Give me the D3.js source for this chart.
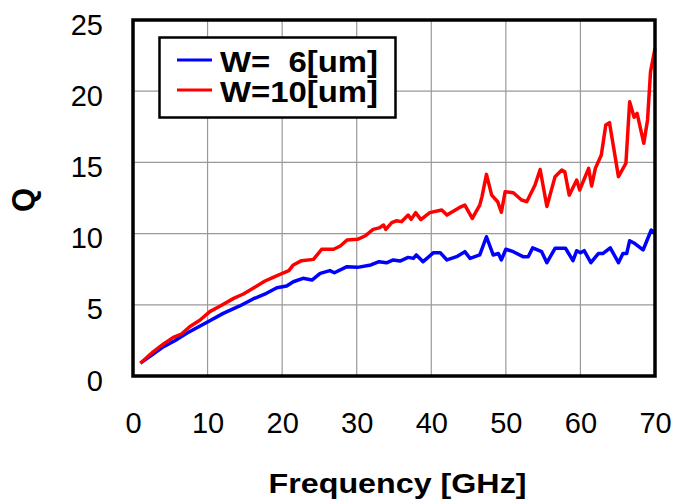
<!DOCTYPE html>
<html>
<head>
<meta charset="utf-8">
<script src="https://cdn.jsdelivr.net/npm/d3@7"></script>
<style>
  body { margin: 0; background: #fff; }
  svg text { font-family: "Liberation Sans", Arial, sans-serif; }
</style>
</head>
<body>
<svg id="chart" width="675" height="502"></svg>
<script>
// W = 6 um
const freq6 = [1, 2.7, 4.1, 5.6, 7.2, 9.0, 10.3, 12.1, 14.3, 16.1, 17.9, 19.3, 20.6, 21.5, 22.8, 24.0, 25.1, 26.4, 27.0, 28.7, 30.1, 31.9, 33.0, 34.0, 34.9, 35.8, 36.9, 37.6, 38.0, 38.9, 40.3, 41.2, 42.1, 43.4, 44.5, 45.2, 46.5, 47.4, 48.3, 49.0, 49.4, 50.0, 51.0, 52.3, 53.0, 53.6, 54.8, 55.5, 56.6, 58.0, 59.0, 59.5, 60.0, 60.5, 61.4, 62.4, 63.0, 64.0, 65.1, 65.7, 66.2, 66.6, 67.3, 68.4, 69.5, 70];
const q6 = [0.9, 1.54, 2.06, 2.48, 3.0, 3.51, 3.88, 4.4, 4.92, 5.41, 5.81, 6.2, 6.32, 6.62, 6.86, 6.74, 7.21, 7.4, 7.25, 7.68, 7.63, 7.8, 8.03, 7.95, 8.15, 8.07, 8.33, 8.26, 8.5, 8.03, 8.66, 8.66, 8.15, 8.38, 8.73, 8.26, 8.5, 9.78, 8.5, 8.6, 8.15, 8.9, 8.73, 8.38, 8.38, 9.0, 8.73, 7.96, 8.97, 8.97, 8.1, 8.8, 8.66, 8.8, 7.96, 8.6, 8.6, 9.0, 7.96, 8.6, 8.6, 9.5, 9.3, 8.85, 10.25, 10.0];

// W = 10 um
const freq10 = [1, 2.7, 4.1, 5.4, 6.5, 7.6, 9.0, 10.3, 11.7, 13.5, 14.8, 16.1, 17.7, 18.8, 20.2, 20.9, 21.5, 22.6, 24.2, 25.3, 26.9, 27.8, 28.7, 30.1, 31.1, 32.2, 33.0, 33.6, 33.9, 34.7, 35.3, 36.0, 36.9, 37.3, 37.9, 38.6, 39.8, 41.4, 42.1, 43.8, 44.5, 45.5, 46.5, 46.8, 47.4, 48.1, 48.9, 49.4, 49.9, 51.0, 52.1, 52.8, 53.9, 54.6, 55.5, 56.6, 57.5, 57.9, 58.5, 59.5, 59.9, 61.1, 61.5, 62.0, 62.8, 63.4, 63.9, 65.1, 66.1, 66.6, 67.2, 67.6, 68.5, 69.0, 69.4, 70];
const q10 = [0.9, 1.7, 2.25, 2.71, 2.95, 3.46, 3.93, 4.52, 4.92, 5.45, 5.76, 6.16, 6.67, 6.93, 7.25, 7.4, 7.8, 8.1, 8.19, 8.9, 8.9, 9.13, 9.55, 9.6, 9.83, 10.3, 10.4, 10.6, 10.3, 10.77, 10.9, 10.84, 11.3, 11.0, 11.47, 10.98, 11.47, 11.66, 11.3, 11.84, 12.0, 11.07, 12.0, 12.6, 14.16, 12.7, 12.24, 11.5, 12.94, 12.87, 12.36, 12.24, 13.4, 14.5, 11.9, 14.0, 14.47, 14.35, 12.7, 13.76, 13.06, 14.58, 13.34, 14.58, 15.52, 17.63, 17.79, 14.0, 14.94, 19.26, 18.17, 18.44, 16.34, 17.98, 21.37, 23.0];

const xTicks = [0, 10, 20, 30, 40, 50, 60, 70];
const yTicks = [0, 5, 10, 15, 20, 25];
const seriesNames = ["W=  6[um]", "W=10[um]"];
const seriesColors = ["#0000ff", "#ff0000"];

const svg = d3.select("#chart");
const x = d3.scaleLinear([0, 70], [133, 655]);
const y = d3.scaleLinear([0, 25], [376, 20]);

// grid
svg.append("g")
    .attr("stroke", "#999")
    .attr("stroke-width", 1.2)
    .call(g => g.selectAll("line.v")
      .data(xTicks.slice(1, -1))
      .join("line")
        .attr("x1", d => x(d)).attr("x2", d => x(d))
        .attr("y1", y(25)).attr("y2", y(0)))
    .call(g => g.selectAll("line.h")
      .data(yTicks.slice(1, -1))
      .join("line")
        .attr("y1", d => y(d)).attr("y2", d => y(d))
        .attr("x1", x(0)).attr("x2", x(70)));

// axes
const xAxis = g => g
    .attr("transform", `translate(0,${y(0)})`)
    .call(d3.axisBottom(x).tickValues(xTicks).tickSize(0).tickPadding(0))
    .call(g => g.select(".domain").remove())
    .call(g => g.selectAll("text")
        .attr("y", 57).attr("dy", 0)
        .attr("fill", "#000")
        .attr("font-size", 29)
        .attr("font-family", "Liberation Sans, Arial, sans-serif"));

const yAxis = g => g
    .attr("transform", `translate(${x(0)},0)`)
    .call(d3.axisLeft(y).tickValues(yTicks).tickSize(0).tickPadding(30))
    .call(g => g.select(".domain").remove())
    .call(g => g.selectAll("text")
        .attr("dy", 14).attr("fill", "#000")
        .attr("font-size", 29)
        .attr("font-family", "Liberation Sans, Arial, sans-serif"));

svg.append("g").call(xAxis);
svg.append("g").call(yAxis);

// curves
const line = d3.line().x(d => x(d[0])).y(d => y(d[1]));
const series = [d3.zip(freq6, q6), d3.zip(freq10, q10)];

svg.append("g")
    .attr("fill", "none")
    .attr("stroke-width", 3.5)
    .attr("stroke-linejoin", "round")
  .selectAll("path")
  .data(series)
  .join("path")
    .attr("stroke", (d, i) => seriesColors[i])
    .attr("d", line);

// frame
svg.append("rect")
    .attr("x", x(0)).attr("y", y(25))
    .attr("width", x(70) - x(0)).attr("height", y(0) - y(25))
    .attr("fill", "none").attr("stroke", "#000").attr("stroke-width", 3.5);

// legend
const legend = svg.append("g");
legend.append("rect")
    .attr("x", 159.5).attr("y", 37.5).attr("width", 236).attr("height", 80)
    .attr("fill", "#fff").attr("stroke", "#000").attr("stroke-width", 2.5);

const rows = legend.selectAll("g.row")
  .data(seriesNames)
  .join("g")
    .attr("transform", (d, i) => `translate(0,${60 + i * 30})`);
rows.append("line")
    .attr("x1", 177).attr("x2", 212)
    .attr("stroke", (d, i) => seriesColors[i]).attr("stroke-width", 3);
rows.append("text")
    .attr("x", 220).attr("y", 12)
    .attr("font-size", 30).attr("font-weight", "bold")
    .attr("textLength", 158).attr("lengthAdjust", "spacingAndGlyphs")
    .style("white-space", "pre")
    .text(d => d);

// axis titles
svg.append("text")
    .attr("x", 397.5).attr("y", 493)
    .attr("text-anchor", "middle")
    .attr("font-size", 27).attr("font-weight", "bold")
    .attr("textLength", 258).attr("lengthAdjust", "spacingAndGlyphs")
    .text("Frequency [GHz]");

svg.append("text")
    .attr("transform", "translate(34,200) rotate(-90)")
    .attr("text-anchor", "middle")
    .attr("font-size", 31).attr("font-weight", "bold")
    .text("Q");
</script>
</body>
</html>
